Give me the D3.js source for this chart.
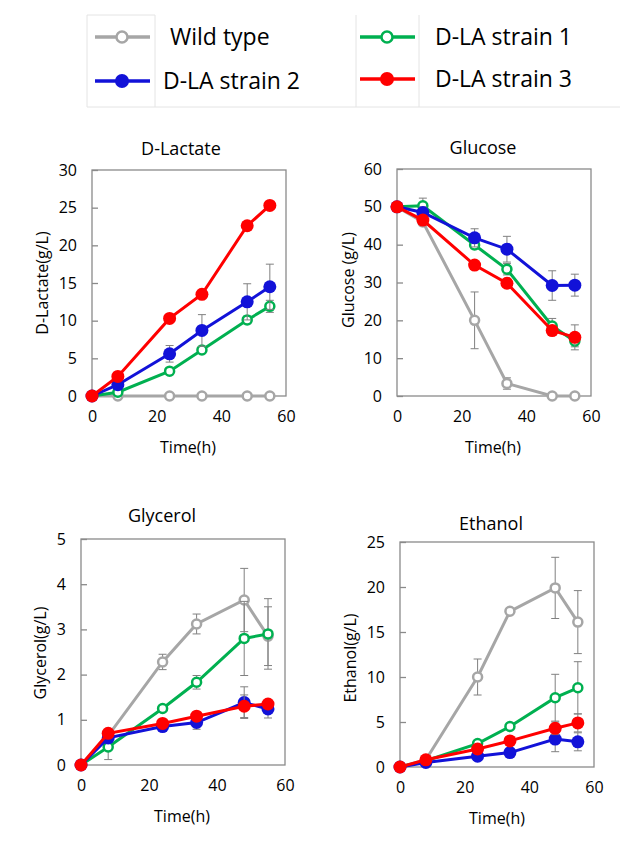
<!DOCTYPE html>
<html>
<head>
<meta charset="utf-8">
<script src="https://cdn.jsdelivr.net/npm/d3@7"></script>
<style>
  body { margin: 0; background: #fff; }
  svg { display: block; font-family: "Open Sans", sans-serif; }
</style>
</head>
<body>
<svg id="chart" width="620" height="842"></svg>
<script>
// sampling times (h)
var times = [0, 8, 24, 34, 48, 55];

var seriesNames = ["Wild type", "D-LA strain 1", "D-LA strain 2", "D-LA strain 3"];

// D-Lactate (g/L)
var lactateWT = [0, 0, 0, 0, 0, 0];
var lactateS1 = [0, 0.5, 3.3, 6.1, 10.1, 11.9];
var lactateS2 = [0, 1.5, 5.6, 8.7, 12.5, 14.5];
var lactateS3 = [0, 2.6, 10.3, 13.5, 22.6, 25.3];
var lactateErrWT = [0, 0, 0, 0, 0, 0];
var lactateErrS1 = [0, 0.1, 0.3, 0.4, 0.5, 0.8];
var lactateErrS2 = [0, 0.2, 1.1, 2.1, 2.4, 3.0];
var lactateErrS3 = [0, 0.2, 0.3, 0.3, 0.3, 0.3];

// Glucose (g/L)
var glucoseWT = [50, 46, 20, 3.3, 0, 0];
var glucoseS1 = [50, 50.3, 39.9, 33.5, 18.5, 14.5];
var glucoseS2 = [50, 48.5, 41.8, 38.8, 29.2, 29.3];
var glucoseS3 = [50, 46.5, 34.6, 29.8, 17.3, 15.5];
var glucoseErrWT = [0, 1, 7.5, 1.5, 0, 0];
var glucoseErrS1 = [0, 2, 1, 1.5, 2, 1.5];
var glucoseErrS2 = [0, 1.5, 2.4, 3.4, 3.9, 2.9];
var glucoseErrS3 = [0, 1, 1, 1, 1, 3.3];

// Glycerol (g/L)
var glycerolWT = [0, 0.65, 2.28, 3.12, 3.65, 2.85];
var glycerolS1 = [0, 0.4, 1.25, 1.83, 2.8, 2.9];
var glycerolS2 = [0, 0.6, 0.85, 0.94, 1.38, 1.24];
var glycerolS3 = [0, 0.7, 0.92, 1.08, 1.3, 1.35];
var glycerolErrWT = [0, 0.05, 0.17, 0.22, 0.7, 0.65];
var glycerolErrS1 = [0, 0.28, 0.05, 0.15, 0.82, 0.78];
var glycerolErrS2 = [0, 0.05, 0.05, 0.15, 0.35, 0.2];
var glycerolErrS3 = [0, 0.05, 0.05, 0.05, 0.25, 0.1];

// Ethanol (g/L)
var ethanolWT = [0, 0.8, 10, 17.3, 19.9, 16.1];
var ethanolS1 = [0, 0.7, 2.6, 4.5, 7.7, 8.8];
var ethanolS2 = [0, 0.5, 1.2, 1.6, 3.1, 2.8];
var ethanolS3 = [0, 0.8, 2.0, 2.9, 4.3, 4.9];
var ethanolErrWT = [0, 0.1, 2, 0.3, 3.4, 3.5];
var ethanolErrS1 = [0, 0.1, 0.3, 0.3, 2.6, 2.9];
var ethanolErrS2 = [0, 0.1, 0.2, 0.3, 1.4, 1.0];
var ethanolErrS3 = [0, 0.1, 0.2, 0.3, 0.7, 1.0];

var xTicks = [0, 20, 40, 60];
var lactateTicks = [0, 5, 10, 15, 20, 25, 30];
var glucoseTicks = [0, 10, 20, 30, 40, 50, 60];
var glycerolTicks = [0, 1, 2, 3, 4, 5];
var ethanolTicks = [0, 5, 10, 15, 20, 25];

// styling per series: wild type, strain 1, strain 2, strain 3
var colors = ["#a6a6a6", "#00b050", "#1212d8", "#ff0000"];
var hollow = [true, true, false, false];

var svg = d3.select("#chart");

//////////////// legend ////////////////
var lg = svg.append("g").attr("class", "legend");
var lgBorder = "#e4e4e4";
lg.append("line").attr("x1", 87).attr("x2", 620).attr("y1", 107).attr("y2", 107).attr("stroke", lgBorder);
lg.append("line").attr("x1", 87).attr("x2", 155).attr("y1", 15).attr("y2", 15).attr("stroke", lgBorder);
[87, 155, 356, 419].forEach(function(x) {
  lg.append("line").attr("x1", x).attr("x2", x).attr("y1", 15).attr("y2", 107).attr("stroke", lgBorder);
});

var lgPos = [
  {x: 95, y: 37, tx: 170},   // wild type
  {x: 360, y: 37, tx: 435},  // strain 1
  {x: 95, y: 81, tx: 163},   // strain 2
  {x: 360, y: 79, tx: 435}   // strain 3
];
seriesNames.forEach(function(name, i) {
  var p = lgPos[i];
  lg.append("line").attr("x1", p.x).attr("x2", p.x + 55)
    .attr("y1", p.y).attr("y2", p.y)
    .attr("stroke", colors[i]).attr("stroke-width", 3.5);
  lg.append("circle").attr("cx", p.x + 27).attr("cy", p.y)
    .attr("r", hollow[i] ? 5.5 : 7)
    .attr("fill", hollow[i] ? "#fff" : colors[i])
    .attr("stroke", colors[i]).attr("stroke-width", hollow[i] ? 2.5 : 0);
  lg.append("text").attr("x", p.tx).attr("y", p.y + 8)
    .attr("font-size", "23px").attr("fill", "#000")
    .text(name);
});

//////////////// panels ////////////////
var panels = [
  {title: "D-Lactate", ylab: "D-Lactate(g/L)", box: [92, 170, 286, 396], ymax: 30, ticks: lactateTicks,
   series: [lactateWT, lactateS1, lactateS2, lactateS3], errs: [lactateErrWT, lactateErrS1, lactateErrS2, lactateErrS3],
   tx: 181, ty: 148, lx: 42, ly: 283, xx: 188, xy: 447},
  {title: "Glucose", ylab: "Glucose (g/L)", box: [397, 169, 591, 396], ymax: 60, ticks: glucoseTicks,
   series: [glucoseWT, glucoseS1, glucoseS2, glucoseS3], errs: [glucoseErrWT, glucoseErrS1, glucoseErrS2, glucoseErrS3],
   tx: 483, ty: 147, lx: 348, ly: 280, xx: 493, xy: 447},
  {title: "Glycerol", ylab: "Glycerol(g/L)", box: [81, 539, 285, 765], ymax: 5, ticks: glycerolTicks,
   series: [glycerolWT, glycerolS1, glycerolS2, glycerolS3], errs: [glycerolErrWT, glycerolErrS1, glycerolErrS2, glycerolErrS3],
   tx: 162, ty: 515, lx: 40, ly: 653, xx: 182, xy: 816},
  {title: "Ethanol", ylab: "Ethanol(g/L)", box: [400, 542, 594, 767], ymax: 25, ticks: ethanolTicks,
   series: [ethanolWT, ethanolS1, ethanolS2, ethanolS3], errs: [ethanolErrWT, ethanolErrS1, ethanolErrS2, ethanolErrS3],
   tx: 491, ty: 523, lx: 350, ly: 658, xx: 497, xy: 818}
];

panels.forEach(function(p) {
  var b = p.box;
  var x = d3.scaleLinear().domain([0, 60]).range([b[0], b[2]]);
  var y = d3.scaleLinear().domain([0, p.ymax]).range([b[3], b[1]]);
  var g = svg.append("g");

  // frame
  g.append("rect").attr("x", b[0]).attr("y", b[1])
    .attr("width", b[2] - b[0]).attr("height", b[3] - b[1])
    .attr("fill", "none").attr("stroke", "#8a8a8a").attr("stroke-width", 1.3);

  var yAx = g.append("g").attr("transform", "translate(" + b[0] + ",0)")
    .call(d3.axisLeft(y).tickValues(p.ticks).tickSize(-6).tickPadding(15).tickFormat(d3.format("d")));
  yAx.select(".domain").remove();
  yAx.selectAll(".tick line").attr("stroke", "#8a8a8a").attr("stroke-width", 1.3);
  yAx.selectAll("text").attr("font-size", "16px").attr("fill", "#000").attr("font-family", "Open Sans");

  var xAx = g.append("g").attr("transform", "translate(0," + b[3] + ")")
    .call(d3.axisBottom(x).tickValues(xTicks).tickSize(0).tickPadding(15).tickFormat(d3.format("d")));
  xAx.select(".domain").remove();
  xAx.selectAll("text").attr("font-size", "16px").attr("fill", "#000").attr("font-family", "Open Sans");

  g.append("text").attr("x", p.tx).attr("y", p.ty).attr("text-anchor", "middle")
    .attr("dominant-baseline", "central").attr("font-size", "18px").attr("fill", "#000").text(p.title);
  g.append("text").attr("transform", "translate(" + p.lx + "," + p.ly + ") rotate(-90)")
    .attr("text-anchor", "middle").attr("dominant-baseline", "central")
    .attr("font-size", "16px").attr("fill", "#000").text(p.ylab);
  g.append("text").attr("x", p.xx).attr("y", p.xy).attr("text-anchor", "middle")
    .attr("dominant-baseline", "central").attr("font-size", "16px").attr("fill", "#000").text("Time(h)");

  var line = d3.line().x(function(d) { return x(d.t); }).y(function(d) { return y(d.v); });

  p.series.forEach(function(vals, si) {
    var pts = vals.map(function(v, i) { return {t: times[i], v: v, e: p.errs[si][i]}; });
    var sg = g.append("g");
    // error bars
    var eb = sg.selectAll(".err").data(pts.filter(function(d) { return d.e > 0; })).enter().append("g");
    eb.append("line").attr("x1", function(d) { return x(d.t); }).attr("x2", function(d) { return x(d.t); })
      .attr("y1", function(d) { return y(Math.max(0, d.v - d.e)); }).attr("y2", function(d) { return y(d.v + d.e); })
      .attr("stroke", "#808080").attr("stroke-width", 1);
    [-1, 1].forEach(function(s) {
      eb.append("line").attr("x1", function(d) { return x(d.t) - 4; }).attr("x2", function(d) { return x(d.t) + 4; })
        .attr("y1", function(d) { return y(Math.max(0, d.v + s * d.e)); })
        .attr("y2", function(d) { return y(Math.max(0, d.v + s * d.e)); })
        .attr("stroke", "#808080").attr("stroke-width", 1);
    });
    sg.append("path").datum(pts).attr("d", line)
      .attr("fill", "none").attr("stroke", colors[si]).attr("stroke-width", 3);
    sg.selectAll("circle").data(pts).enter().append("circle")
      .attr("cx", function(d) { return x(d.t); }).attr("cy", function(d) { return y(d.v); })
      .attr("r", hollow[si] ? 4.5 : 6.5)
      .attr("fill", hollow[si] ? "#fff" : colors[si])
      .attr("stroke", colors[si]).attr("stroke-width", hollow[si] ? 2.5 : 0);
  });
});
</script>
</body>
</html>
